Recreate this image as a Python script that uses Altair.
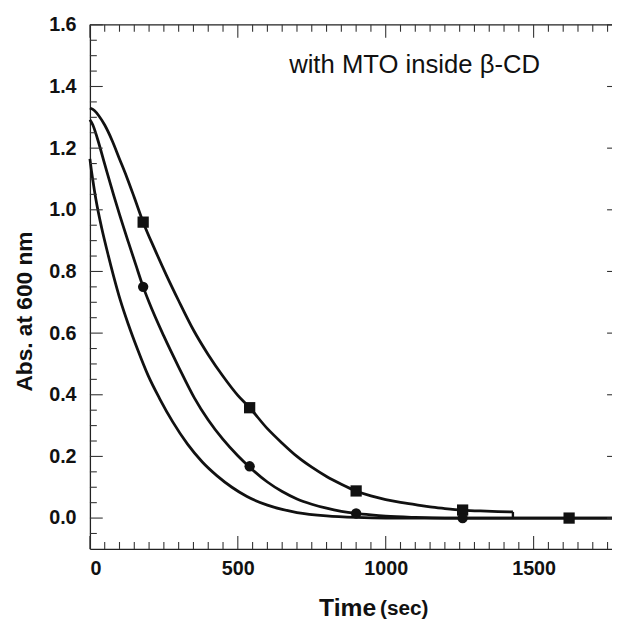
import altair as alt
import pandas as pd

# ---- curve data (time in s, absorbance) ----
a_t = [0, 15, 30, 50, 75, 100, 125, 150, 180, 220, 260, 300, 350, 400, 450, 500, 540, 600, 650, 700,
       750, 800, 850, 900, 950, 1000, 1050, 1100, 1150, 1200, 1260, 1320, 1380, 1430]
a_v = [1.330, 1.322, 1.305, 1.275, 1.225, 1.165, 1.105, 1.040, 0.960, 0.870, 0.785, 0.705, 0.610, 0.530,
       0.460, 0.398, 0.358, 0.290, 0.243, 0.200, 0.165, 0.135, 0.110, 0.088, 0.072, 0.060, 0.051, 0.044,
       0.036, 0.031, 0.026, 0.023, 0.021, 0.020]
a_drop_t = [1430, 1430]
a_drop_v = [0.020, 0.0]

b_t = [0, 10, 25, 50, 81, 100, 130, 155, 180, 200, 250, 300, 353, 400, 450, 500, 540, 600, 650, 700,
       750, 800, 850, 900, 950, 1000, 1100, 1200, 1765]
b_v = [1.292, 1.275, 1.232, 1.148, 1.045, 0.985, 0.895, 0.822, 0.750, 0.700, 0.590, 0.490, 0.390, 0.318,
       0.255, 0.202, 0.165, 0.117, 0.086, 0.062, 0.045, 0.032, 0.022, 0.015, 0.010, 0.006, 0.002, 0.0, 0.0]

c_t = [0, 5, 10, 20, 40, 60, 80, 103, 130, 160, 197, 236, 280, 330, 380, 430, 480, 531, 600, 650, 700,
       800, 900, 1000, 1765]
c_v = [1.165, 1.128, 1.095, 1.035, 0.940, 0.860, 0.785, 0.706, 0.628, 0.550, 0.462, 0.387, 0.312, 0.240,
       0.182, 0.137, 0.100, 0.070, 0.042, 0.028, 0.018, 0.007, 0.002, 0.0, 0.0]

sq_t = [180, 540, 900, 1260, 1620]
sq_v = [0.96, 0.358, 0.088, 0.026, 0.0]
ci_t = [180, 540, 900, 1260]
ci_v = [0.75, 0.168, 0.015, 0.0]

x_major = [0, 500, 1000, 1500]
x_minor = [50, 100, 150, 200, 250, 300, 350, 400, 450, 550, 600, 650, 700, 750, 800, 850, 900, 950,
           1050, 1100, 1150, 1200, 1250, 1300, 1350, 1400, 1450, 1550, 1600, 1650, 1700, 1750]
y_major = [0.0, 0.2, 0.4, 0.6, 0.8, 1.0, 1.2, 1.4, 1.6]
y_minor = [-0.05, 0.05, 0.1, 0.15, 0.25, 0.3, 0.35, 0.45, 0.5, 0.55, 0.65, 0.7, 0.75, 0.85, 0.9, 0.95,
           1.05, 1.1, 1.15, 1.25, 1.3, 1.35, 1.45, 1.5, 1.55]
y_top = [1.6]

annotation = "with MTO inside \u03b2-CD"
y_title = "Abs. at 600 nm"
x_title_main = "Time"
x_title_unit = "(sec)"

W, H = 529, 531
FONT = "Liberation Sans"
INK = "#111111"

xs = alt.Scale(domain=[0, 1765], nice=False, zero=False)
ys = alt.Scale(domain=[-0.1, 1.6], nice=False, zero=False)

lines_df = pd.concat([
    pd.DataFrame({"t": a_t, "v": a_v, "s": "A", "o": range(len(a_t))}),
    pd.DataFrame({"t": b_t, "v": b_v, "s": "B", "o": range(len(b_t))}),
    pd.DataFrame({"t": c_t, "v": c_v, "s": "C", "o": range(len(c_t))}),
])
drop_df = pd.DataFrame({"t": a_drop_t, "v": a_drop_v, "o": [0, 1]})

x_axis = alt.Axis(values=x_major, format="d", title=None, ticks=False, tickSize=0, grid=False,
                  labelFont=FONT, labelFontSize=20, labelFontWeight="bold", labelColor=INK,
                  labelPadding=10, domainColor="#222222", domainWidth=1.3)
y_axis = alt.Axis(values=y_major, format=".1f", title=y_title, ticks=False, tickSize=0, grid=False,
                  labelFont=FONT, labelFontSize=20, labelFontWeight="bold", labelColor=INK,
                  labelPadding=14, domainColor="#222222", domainWidth=1.3,
                  titleFont=FONT, titleFontSize=23, titleFontWeight="bold", titleColor=INK,
                  titleX=-66, titleY=290, titleAlign="center", titleBaseline="middle")

def X(f):
    return alt.X(f, scale=xs, axis=x_axis)
def Y(f):
    return alt.Y(f, scale=ys, axis=y_axis)

lines = alt.Chart(lines_df).mark_line(interpolate="monotone", color=INK, strokeWidth=2.8).encode(
    x=X("t:Q"), y=Y("v:Q"), detail="s:N", order="o:Q")
drop = alt.Chart(drop_df).mark_line(color=INK, strokeWidth=2.4).encode(
    x=X("t:Q"), y=Y("v:Q"), order="o:Q")
squares = alt.Chart(pd.DataFrame({"t": sq_t, "v": sq_v})).mark_point(
    shape="square", filled=True, size=130, color=INK, opacity=1).encode(x=X("t:Q"), y=Y("v:Q"))
circles = alt.Chart(pd.DataFrame({"t": ci_t, "v": ci_v})).mark_point(
    shape="circle", filled=True, size=110, color=INK, opacity=1).encode(x=X("t:Q"), y=Y("v:Q"))

# frame ticks (inward), drawn through the scales
TC = "#333333"
def xticks(vals, y0, y1):
    return alt.Chart(pd.DataFrame({"t": vals})).mark_rule(color=TC, strokeWidth=1.1).encode(
        x=X("t:Q"), y=alt.value(y0), y2=alt.value(y1))
def yticks(vals, x0, x1):
    return alt.Chart(pd.DataFrame({"v": vals})).mark_rule(color=TC, strokeWidth=1.1).encode(
        y=Y("v:Q"), x=alt.value(x0), x2=alt.value(x1))

top_line = alt.Chart(pd.DataFrame({"v": y_top})).mark_rule(color="#222222", strokeWidth=1.3).encode(
    y=Y("v:Q"))

ticks = [
    xticks(x_minor, H, H - 7), xticks(x_major, H, H - 13),
    xticks(x_minor, 0, 7), xticks(x_major, 0, 13),
    yticks(y_minor, 0, 7), yticks(y_major, 0, 13),
    yticks(y_major, W, W - 5),
]

ann = alt.Chart(pd.DataFrame({"label": [annotation]})).mark_text(
    font=FONT, fontSize=26, color=INK, align="center", baseline="middle").encode(
    text="label:N", x=alt.value(329), y=alt.value(41))
xt1 = alt.Chart(pd.DataFrame({"label": [x_title_main]})).mark_text(
    font=FONT, fontSize=25, fontWeight="bold", color=INK, align="right", baseline="middle").encode(
    text="label:N", x=alt.value(290), y=alt.value(591))
xt2 = alt.Chart(pd.DataFrame({"label": [x_title_unit]})).mark_text(
    font=FONT, fontSize=21, fontWeight="bold", color=INK, align="left", baseline="middle").encode(
    text="label:N", x=alt.value(294), y=alt.value(592))

chart = alt.layer(lines, drop, squares, circles, top_line, *ticks, ann, xt1, xt2).properties(
    width=W, height=H,
    autosize=alt.AutoSizeParams(type="none"),
    padding={"left": 83, "top": 13, "right": 0, "bottom": 70},
    background="white",
).configure_view(stroke=None)

chart.save("out.html", embed_options={"renderer": "svg", "actions": False})
